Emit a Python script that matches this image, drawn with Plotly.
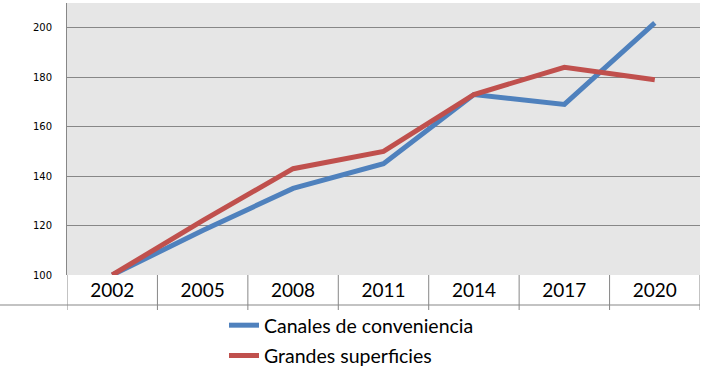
import plotly.graph_objects as go

years = ["2002", "2005", "2008", "2011", "2014", "2017", "2020"]
canales = [100, 118, 135, 145, 173, 169, 202]
grandes = [100, 122, 143, 150, 173, 184, 179]
y_ticks = [100, 120, 140, 160, 180, 200]

W, H = 718, 374
ML, MR, MT, MB = 67, 18, 3, 99
plot_h = H - MT - MB
plot_w = W - ML - MR

fig = go.Figure()
fig.add_trace(go.Scatter(x=years, y=canales, mode="lines", name="Canales de conveniencia",
                         legendgroup="a", line=dict(color="#4f81bd", width=5)))
fig.add_trace(go.Scatter(x=years, y=grandes, mode="lines", name="Grandes superficies",
                         legendgroup="b", line=dict(color="#c0504d", width=5)))

grid = "#878787"
shapes = []
# table separators at category boundaries
for i in range(len(years) + 1):
    shapes.append(dict(type="line", xref="x", yref="paper", x0=i - 0.5, x1=i - 0.5,
                       y0=0, y1=-35 / plot_h, line=dict(color=grid, width=1)))
# table bottom line
shapes.append(dict(type="line", xref="paper", yref="paper", x0=-ML / plot_w, x1=1,
                   y0=-30 / plot_h, y1=-30 / plot_h, line=dict(color=grid, width=1)))

fig.update_layout(
    width=W, height=H,
    margin=dict(l=ML, r=MR, t=MT, b=MB, autoexpand=False),
    paper_bgcolor="white",
    plot_bgcolor="#e6e6e6",
    font=dict(family="Lato", color="#000000"),
    showlegend=True,
    legend=dict(orientation="v", x=(224 - ML) / plot_w, xanchor="left",
                y=-31 / plot_h, yanchor="top", font=dict(size=19.5, family="Lato", color="#000"),
                itemwidth=30, bgcolor="rgba(0,0,0,0)", tracegroupgap=2, traceorder="grouped"),
    shapes=shapes,
    xaxis=dict(type="category", range=[-0.5, len(years) - 0.5], showgrid=False,
               showline=False, ticks="", zeroline=False, automargin=False,
               ticklabelstandoff=2,
               tickfont=dict(size=19, family="Lato", color="#000")),
    yaxis=dict(range=[100, 210], tickvals=y_ticks, showgrid=True, gridcolor=grid,
               gridwidth=1, showline=True, linecolor=grid, linewidth=1, ticks="",
               zeroline=False, ticklabelstandoff=12, automargin=False,
               tickfont=dict(size=10, family="DejaVu Sans", color="#000")),
)

fig.write_html("out.html", config={"displayModeBar": False},
               post_script="document.body.style.margin='0';")
